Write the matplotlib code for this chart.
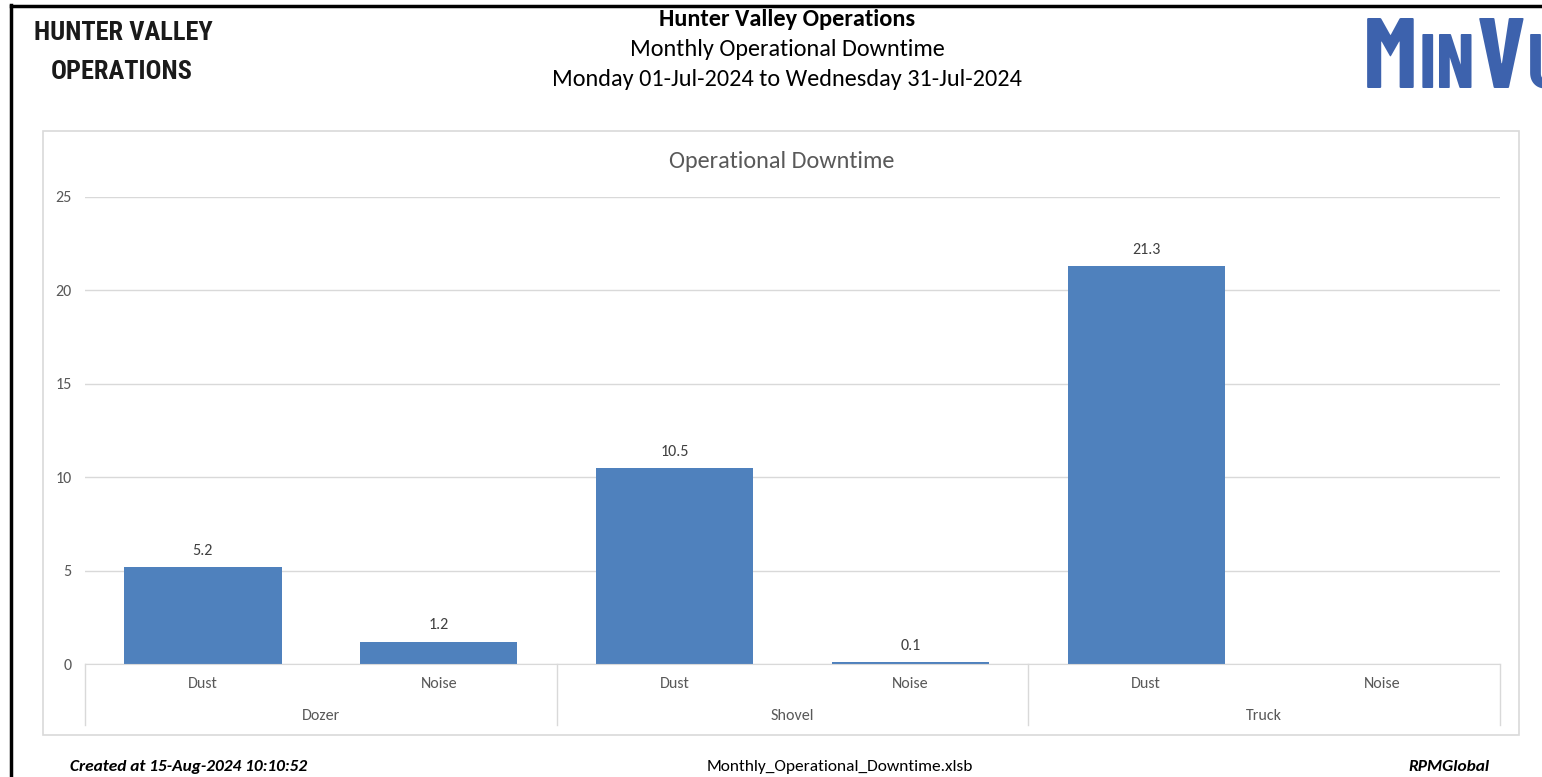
import matplotlib.pyplot as plt
import matplotlib.patches as patches
from matplotlib.lines import Line2D
from matplotlib import font_manager
import numpy as np

# data
groups = ['Dozer', 'Shovel', 'Truck']
causes = ['Dust', 'Noise']
downtime = [5.2, 1.2, 10.5, 0.1, 21.3, 0.0]
yticks = [0, 5, 10, 15, 20, 25]


def pick(cands):
    names = {f.name for f in font_manager.fontManager.ttflist}
    for c in cands:
        if c in names:
            return c
    return 'DejaVu Sans'


body = pick(['Carlito', 'Lato', 'Open Sans'])
narrow = pick(['Liberation Sans Narrow', 'Roboto Condensed', 'Archivo Narrow', 'PT Sans Narrow'])
logo = pick(['Barlow Condensed', 'Roboto Condensed', 'Oswald'])

W, H = 1542, 777
fig = plt.figure(figsize=(W / 100, H / 100), dpi=100)


def fx(px):
    return px / W


def fy(py):
    return 1 - py / H


# page border (left and top only)
fig.add_artist(Line2D([fx(11), fx(11)], [fy(5), fy(777)], color='black', lw=2.5))
fig.add_artist(Line2D([fx(11), 1], [fy(6), fy(6)], color='black', lw=2.5))

# header
fig.text(fx(123), fy(33), 'HUNTER VALLEY', family=narrow, weight='bold', fontsize=19,
         color='#1a1a1a', ha='center', va='center')
fig.text(fx(122), fy(72), 'OPERATIONS', family=narrow, weight='bold', fontsize=19,
         color='#1a1a1a', ha='center', va='center')
fig.text(fx(787), fy(20), 'Hunter Valley Operations', family=body, weight='bold', fontsize=17.5,
         ha='center', va='center')
fig.text(fx(787), fy(50), 'Monthly Operational Downtime', family=body, fontsize=17.5,
         ha='center', va='center')
fig.text(fx(787), fy(80), 'Monday 01-Jul-2024 to Wednesday 31-Jul-2024', family=body, fontsize=17.5,
         ha='center', va='center')

# logo, big and small caps laid one after the other
renderer = fig.canvas.get_renderer()
xpos = 1363
for part, size in [('M', 72), ('IN', 55), ('V', 72), ('U', 55)]:
    t = fig.text(fx(xpos), fy(88), part, family=logo, weight='bold', fontsize=size,
                 color='#3d62ad', ha='left', va='baseline')
    xpos = t.get_window_extent(renderer).x1 + 1

# chart frame
fig.add_artist(patches.Rectangle((fx(43), fy(735)), fx(1519 - 43), (735 - 131) / H,
                                 fill=False, edgecolor='#d9d9d9', lw=1.2))
fig.text(fx(782), fy(161), 'Operational Downtime', family=body, fontsize=17.5,
         color='#595959', ha='center', va='center')

ax = fig.add_axes([fx(85), fy(664), fx(1500 - 85), (664 - 197) / H])
x = np.arange(len(downtime))
ax.bar(x, downtime, width=0.667, color='#4f81bd', zorder=3)
for xi, v in zip(x, downtime):
    if v > 0:
        ax.text(xi, v + 0.5, f'{v:.1f}', family=body, fontsize=11.5, color='#404040',
                ha='center', va='bottom')

ax.set_xlim(-0.5, len(downtime) - 0.5)
ax.set_ylim(0, 25)
ax.set_yticks(yticks)
ax.set_yticklabels([str(t) for t in yticks], family=body, fontsize=11.5, color='#595959')
ax.tick_params(axis='y', length=0, pad=9.5)
ax.grid(axis='y', color='#d9d9d9', lw=1, zorder=0)
for s in ['top', 'right', 'left']:
    ax.spines[s].set_visible(False)
ax.spines['bottom'].set_color('#d9d9d9')
ax.spines['bottom'].set_zorder(4)

ax.set_xticks(x)
ax.set_xticklabels(causes * len(groups), family=body, fontsize=11.5, color='#595959')
ax.tick_params(axis='x', length=0, pad=9.5)

trans = ax.get_xaxis_transform()
sep_bottom = -(725 - 664) / (664 - 197)
grp_y = -(716 - 664) / (664 - 197)
for i in range(len(groups) + 1):
    xs = i * len(causes) - 0.5
    ax.plot([xs, xs], [0, sep_bottom], transform=trans, color='#d9d9d9', lw=1, clip_on=False)
for i, g in enumerate(groups):
    xc = i * len(causes) + (len(causes) - 1) / 2
    ax.text(xc, grp_y, g, transform=trans, family=body, fontsize=11.5, color='#595959',
            ha='center', va='center')

# footer
fig.text(fx(70), fy(767), 'Created at 15-Aug-2024 10:10:52', family=body, weight='bold',
         style='italic', fontsize=12.5, ha='left', va='center')
fig.text(fx(840), fy(767), 'Monthly_Operational_Downtime.xlsb', family=body, fontsize=12.5,
         ha='center', va='center')
fig.text(fx(1490), fy(767), 'RPMGlobal', family=body, weight='bold', style='italic',
         fontsize=12.5, ha='right', va='center')

fig.savefig('out.png', dpi=100)
